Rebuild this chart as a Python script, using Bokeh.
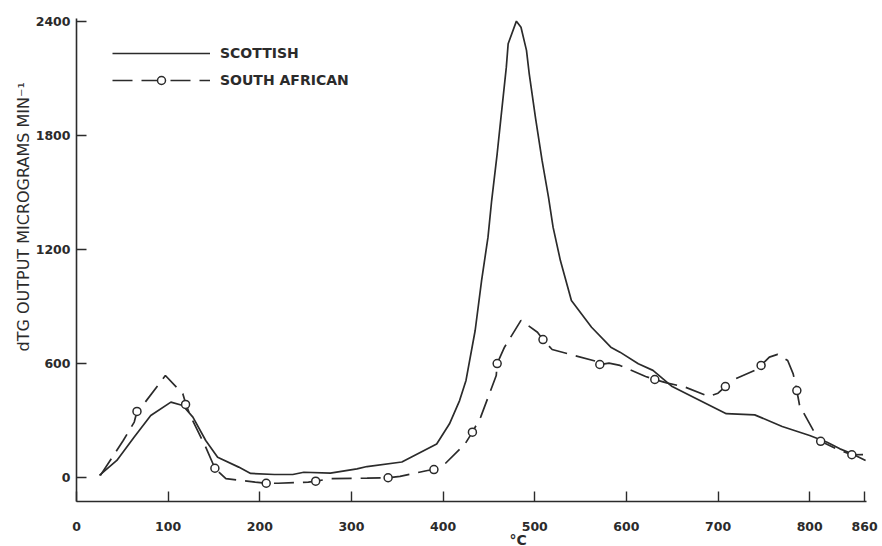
import numpy as np
from bokeh.plotting import figure
from bokeh.models import FixedTicker, Legend, LegendItem, Title, Range1d
from bokeh.embed import file_html
from bokeh.resources import INLINE

# Derivative thermogravimetry traces, output in micrograms per minute vs temperature (°C)
scot_temp = [25, 44, 63, 81, 103, 116, 127, 141, 154, 177, 190, 216, 236, 248, 277,
             306, 317, 355, 393, 407, 418, 425, 435, 442, 449, 453, 459, 463, 469,
             471, 480, 485, 491, 494, 501, 508, 515, 520, 528, 540, 555, 562, 583,
             593, 613, 629, 650, 677, 709, 740, 770, 800, 819, 833, 845, 861]
scot_dtg = [9, 88, 211, 325, 395, 377, 316, 193, 105, 53, 20, 14, 14, 26, 21,
            44, 56, 80, 175, 281, 403, 509, 772, 1035, 1263, 1456, 1702, 1886, 2158,
            2281, 2400, 2368, 2246, 2123, 1886, 1667, 1474, 1316, 1140, 930, 834, 789, 684,
            658, 597, 562, 477, 412, 334, 328, 267, 219, 184, 149, 126, 88]

sa_temp = [26, 51, 63, 66, 75, 97, 116, 119, 124, 141, 151, 163, 195, 207, 220, 253,
           261, 277, 317, 340, 353, 383, 390, 402, 424, 432, 441, 458, 459, 467, 485,
           503, 509, 519, 566, 571, 581, 593, 621, 631, 645, 664, 690, 700, 708, 715,
           740, 747, 756, 765, 776, 782, 786, 789, 806, 812, 829, 846, 861]
sa_dtg = [9, 193, 290, 346, 395, 535, 439, 390, 325, 158, 47, -8, -26, -32, -32, -26,
          -21, -8, -5, -3, 4, 35, 40, 70, 175, 237, 316, 535, 598, 684, 825,
          763, 724, 672, 611, 593, 600, 588, 530, 514, 495, 474, 425, 442, 477, 509,
          562, 588, 632, 646, 614, 544, 456, 377, 228, 189, 149, 118, 119]

# Measured points marked with open circles on the South African trace
sa_pt_temp = [66, 119, 151, 207, 261, 340, 390, 432, 459, 509, 571, 631, 708, 747, 786, 812, 846]
sa_pt_dtg = [346, 383, 47, -32, -21, -3, 40, 237, 598, 724, 593, 514, 477, 588, 456, 189, 118]

x_ticks = [0, 100, 200, 300, 400, 500, 600, 700, 800, 860]
y_ticks = [0, 600, 1200, 1800, 2400]

INK = "#2b2b2b"
FONT = "DejaVu Sans"

p = figure(width=882, height=546, output_backend="svg", toolbar_location=None,
           x_range=Range1d(0, 862), y_range=Range1d(-128, 2414),
           min_border_left=76, min_border_right=16, min_border_top=18,
           min_border_bottom=45)
p.outline_line_color = None
p.grid.visible = False
p.background_fill_color = "white"
p.border_fill_color = "white"

r_scot = p.line(scot_temp, scot_dtg, line_color=INK, line_width=1.7)
r_sa = p.line(sa_temp, sa_dtg, line_color=INK, line_width=1.7, line_dash="20 9")
r_pts = p.scatter(sa_pt_temp, sa_pt_dtg, marker="circle", size=8, fill_color="white",
                  line_color=INK, line_width=1.5)

for ax in (p.xaxis, p.yaxis):
    ax.axis_line_color = INK
    ax.axis_line_width = 1.6
    ax.major_tick_line_color = INK
    ax.major_tick_line_width = 1.4
    ax.major_tick_in = 10
    ax.major_tick_out = 0
    ax.minor_tick_line_color = None
    ax.major_label_text_font = FONT
    ax.major_label_text_font_style = "bold"
    ax.major_label_text_font_size = "12.5px"
    ax.major_label_text_color = INK

p.xaxis.ticker = FixedTicker(ticks=x_ticks)
p.yaxis.ticker = FixedTicker(ticks=y_ticks)
p.xaxis.major_label_standoff = 20
p.yaxis.major_label_standoff = 6

# Axis titles as side-panel titles so they can be shifted along their axis
p.add_layout(Title(text="dTG OUTPUT MICROGRAMS MIN⁻¹", align="left", offset=150,
                   standoff=0, text_font=FONT, text_font_size="16px",
                   text_font_style="normal", text_color=INK), "left")
p.add_layout(Title(text="°C", align="left", offset=433, standoff=-8,
                   text_font=FONT, text_font_size="14px", text_font_style="bold",
                   text_color=INK), "below")

legend = Legend(items=[LegendItem(label="SCOTTISH", renderers=[r_scot]),
                       LegendItem(label="SOUTH AFRICAN", renderers=[r_sa, r_pts])],
                location=(36, 411), glyph_width=98, glyph_height=20,
                label_height=20, spacing=7, padding=0, margin=0,
                label_standoff=10, border_line_color=None,
                background_fill_alpha=0,
                label_text_font=FONT, label_text_font_style="bold",
                label_text_font_size="14px", label_text_color=INK)
p.add_layout(legend)

open("out.html", "w").write(file_html(p, INLINE))
